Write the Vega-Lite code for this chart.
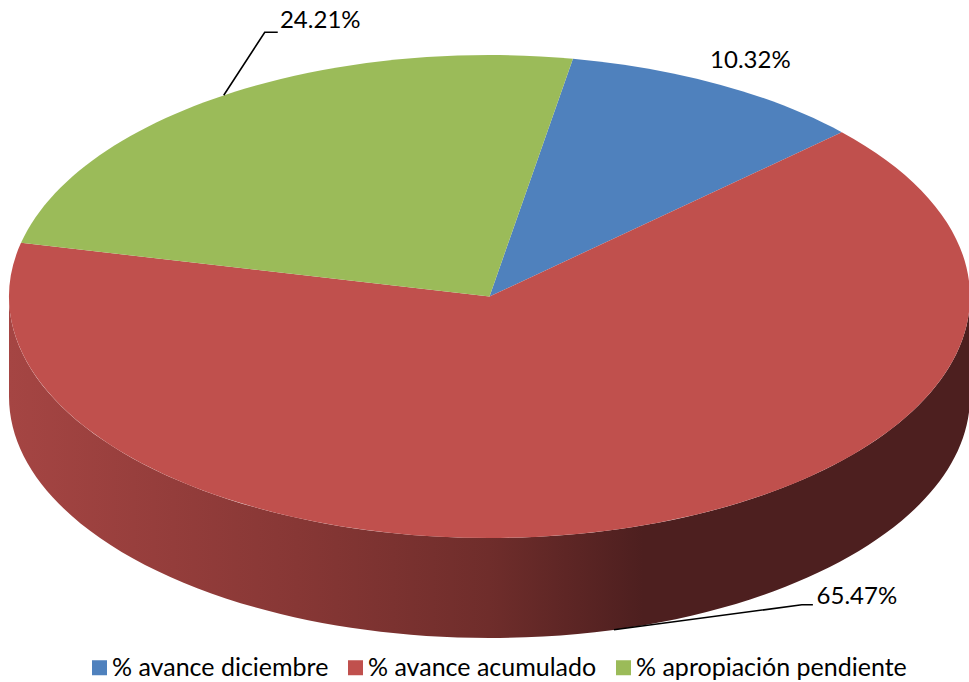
{
  "$schema": "https://vega.github.io/schema/vega-lite/v6.json",
  "width": 969,
  "height": 682,
  "padding": 0,
  "autosize": "none",
  "background": "white",
  "view": {"stroke": null},
  "data": {"values": [
    {"slice": "% avance diciembre", "value": 10.32},
    {"slice": "% avance acumulado", "value": 65.47},
    {"slice": "% apropiación pendiente", "value": 24.21}
  ]},
  "transform": [
    {"window": [{"op": "sum", "field": "value", "as": "cum"}]},
    {"calculate": "(10 + 3.6 * (datum.cum - datum.value)) * PI / 180", "as": "a0"},
    {"calculate": "(10 + 3.6 * datum.cum) * PI / 180", "as": "a1"},
    {"calculate": "(datum.a0 + datum.a1) / 2", "as": "mid"},
    {"calculate": "'M0,0L' + round(48050 * sin(datum.a0)) / 100 + ',' + round(-24150 * cos(datum.a0)) / 100 + 'A480.5,241.5 0 ' + (datum.value > 50 ? 1 : 0) + ' 1 ' + round(48050 * sin(datum.a1)) / 100 + ',' + round(-24150 * cos(datum.a1)) / 100 + 'Z'", "as": "path"},
    {"calculate": "480.5 * sin(datum.mid)", "as": "ax"},
    {"calculate": "-241.5 * cos(datum.mid) + (datum.value > 50 ? 100 : 0)", "as": "ay"},
    {"calculate": "datum.value > 50 ? 243 : (datum.value > 20 ? 96.5 : 31)", "as": "dx"},
    {"calculate": "datum.value > 50 ? -33 : (datum.value > 20 ? -74 : -23)", "as": "dy"},
    {"calculate": "datum.ax + datum.dx", "as": "lx"},
    {"calculate": "datum.ay + datum.dy", "as": "ly"},
    {"calculate": "datum.value > 50 ? 'M0,0L188,-25L199,-25' : 'M0,0L41,-63L54,-63'", "as": "leader"},
    {"calculate": "format(datum.value, '.2f') + '%'", "as": "label"}
  ],
  "layer": [
    {
      "transform": [{"filter": "datum.value > 50"}],
      "mark": {
        "type": "point", "filled": true, "opacity": 1, "size": 4,
        "fill": {"gradient": "linear", "x1": 0, "y1": 0, "x2": 1, "y2": 0, "stops": [
          {"offset": 0, "color": "#a54543"},
          {"offset": 0.3, "color": "#873735"},
          {"offset": 0.5, "color": "#6f2d2b"},
          {"offset": 0.66, "color": "#4d1f1f"},
          {"offset": 1, "color": "#4d1f1f"}
        ]}
      },
      "encoding": {
        "x": {"datum": 0, "type": "quantitative", "scale": {"domain": [-489.5, 479.5], "nice": false, "zero": false}, "axis": null},
        "y": {"datum": 0, "type": "quantitative", "scale": {"domain": [-296.5, 385.5], "nice": false, "zero": false, "reverse": true}, "axis": null},
        "shape": {"value": "M-480.5,0A480.5,241.5 0 0 0 480.5,0L480.5,100A480.5,241.5 0 0 1 -480.5,100Z"}
      }
    },
    {
      "mark": {"type": "point", "filled": true, "opacity": 1, "size": 4},
      "encoding": {
        "x": {"datum": 0, "type": "quantitative"},
        "y": {"datum": 0, "type": "quantitative"},
        "shape": {"field": "path", "type": "nominal", "scale": null},
        "color": {
          "field": "slice", "type": "nominal",
          "scale": {
            "domain": ["% avance diciembre", "% avance acumulado", "% apropiación pendiente"],
            "range": ["#4f81bd", "#c0504d", "#9bbb59"]
          },
          "legend": {
            "title": null, "orient": "none", "legendX": 87, "legendY": 655,
            "direction": "horizontal", "columns": 3, "symbolType": "square",
            "symbolSize": 225, "symbolOpacity": 1, "labelFont": "Lato", "labelFontSize": 25,
            "labelColor": "#000", "columnPadding": 14, "labelOffset": 0, "labelLimit": 0
          }
        }
      }
    },
    {
      "transform": [{"filter": "datum.value > 20"}],
      "mark": {"type": "point", "filled": false, "opacity": 1, "size": 4, "color": "#000", "strokeWidth": 1.6},
      "encoding": {
        "x": {"field": "ax", "type": "quantitative"},
        "y": {"field": "ay", "type": "quantitative"},
        "shape": {"field": "leader", "type": "nominal", "scale": null}
      }
    },
    {
      "mark": {"type": "text", "font": "Lato", "fontSize": 24, "color": "#000", "align": "center", "baseline": "middle"},
      "encoding": {
        "x": {"field": "lx", "type": "quantitative"},
        "y": {"field": "ly", "type": "quantitative"},
        "text": {"field": "label", "type": "nominal"}
      }
    }
  ]
}
